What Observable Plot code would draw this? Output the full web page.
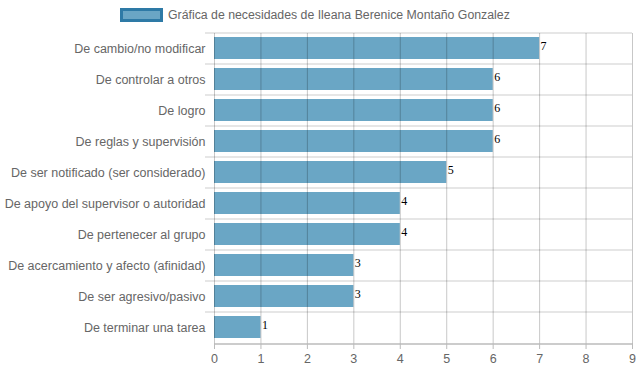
<!DOCTYPE html>
<html>
<head>
<meta charset="utf-8">
<script src="https://cdn.jsdelivr.net/npm/d3@7"></script>
<script src="https://cdn.jsdelivr.net/npm/@observablehq/plot@0.6"></script>
<style>
  html, body { margin: 0; padding: 0; background: #fff; }
  #wrap { width: 639px; height: 372px; position: relative; overflow: hidden; }
  #legend { position: relative; height: 28px; font-family: "Liberation Sans", Arial, sans-serif; font-size: 12.3px; color: #666; }
  #legend .box { position: absolute; left: 120px; top: 8px; width: 37px; height: 8px; background: #6aa6c5; border: 3px solid #2e7aa6; }
  #legend .lbl { position: absolute; left: 168px; top: 8px; white-space: nowrap; }
  svg { display: block; }
</style>
</head>
<body>
<div id="wrap">
  <div id="legend"><div class="box"></div><div class="lbl">Gráfica de necesidades de Ileana Berenice Montaño Gonzalez</div></div>
  <div id="chart"></div>
</div>
<script>
const categories = [
  "De cambio/no modificar",
  "De controlar a otros",
  "De logro",
  "De reglas y supervisión",
  "De ser notificado (ser considerado)",
  "De apoyo del supervisor o autoridad",
  "De pertenecer al grupo",
  "De acercamiento y afecto (afinidad)",
  "De ser agresivo/pasivo",
  "De terminar una tarea"
];
const values = [7, 6, 6, 6, 5, 4, 4, 3, 3, 1];
const xTicks = [0, 1, 2, 3, 4, 5, 6, 7, 8, 9];

const data = categories.map((c, i) => ({category: c, value: values[i]}));
const halfStep = 15.5;

const chart = Plot.plot({
  width: 639,
  height: 344,
  marginTop: 5,
  marginBottom: 29,
  marginLeft: 214,
  marginRight: 7,
  style: {fontFamily: "'Liberation Sans', Arial, sans-serif", fontSize: "12px", background: "white"},
  x: {domain: [0, 9], ticks: xTicks, label: null},
  y: {domain: categories, paddingInner: 0.29, paddingOuter: 0.145, label: null},
  marks: [
    Plot.ruleY(categories, {y: d => d, dy: -halfStep, x1: -0.194, x2: 9, stroke: "#e6e6e6", strokeWidth: 2}),
    Plot.barX(data, {x: "value", y: "category", fill: "#6aa6c5"}),
    Plot.ruleX(xTicks, {stroke: "#000", strokeOpacity: 0.22, strokeWidth: 1}),
    Plot.ruleY([categories[categories.length - 1]], {dy: halfStep + 1, x1: 0, x2: 9, stroke: "#999"}),
    Plot.axisX({ticks: xTicks, tickSize: 6, tickPadding: 5, stroke: "#bbb", fill: "#666", fontSize: 12.5, label: null}),
    Plot.axisY({tickSize: 0, tickPadding: 9, fill: "#666", fontSize: 12.5, label: null}),
    Plot.text(data, {x: "value", y: "category", text: d => String(d.value), textAnchor: "start", dx: 1, dy: -2, fill: "#000", fontSize: 12, fontFamily: "'Liberation Serif', 'Times New Roman', serif"})
  ]
});
document.getElementById("chart").appendChild(chart);
</script>
</body>
</html>
